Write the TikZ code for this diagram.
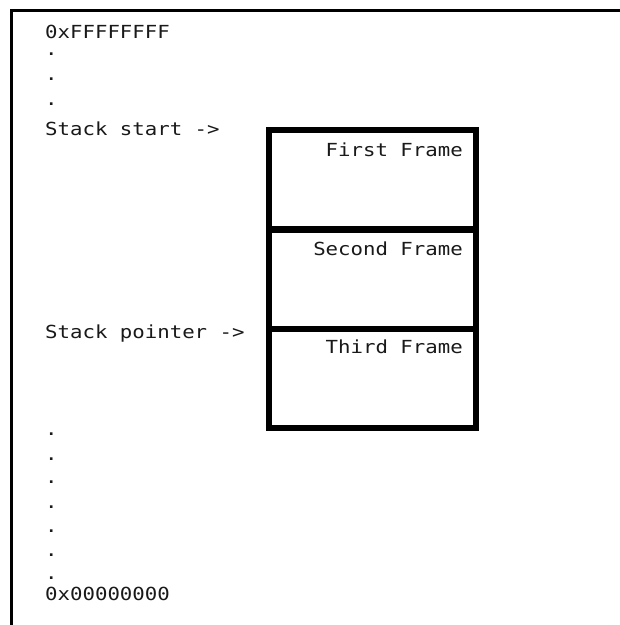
\documentclass[tikz,border=0pt]{standalone}
\usepackage{fontspec}
\newfontfamily\monofnt[FakeStretch=1.15]{DejaVu Sans Mono}
\begin{document}
\begin{tikzpicture}[x=1pt,y=-1pt,
  lbl/.style={inner sep=0pt, anchor=base west, font=\monofnt\fontsize{18}{18}\selectfont, text=black!90},
  flbl/.style={inner sep=0pt, anchor=base east, font=\monofnt\fontsize{18}{18}\selectfont, text=black!90},
  framebox/.style={draw=black, line width=6pt, rectangle, inner sep=0pt, outer sep=0pt, minimum width=207pt, minimum height=99pt, anchor=north west},
  border/.style={draw=black, line width=3pt}]
\useasboundingbox (0,0) rectangle (620,625);
% outer border (top and left only)
\coordinate (tr) at (620,10);
\coordinate (tl) at (11,10);
\coordinate (bl) at (11,625);
\draw[border] (tr) -- (tl) -- (bl);
% labels
\node[lbl] (top) at (45,38) {0xFFFFFFFF};
\node[lbl] (d1) at (45,55) {.};
\node[lbl] (d2) at (45,80) {.};
\node[lbl] (d3) at (45,105) {.};
\node[lbl] (ss) at (45,135) {Stack start ->};
\node[lbl] (sp) at (45,338) {Stack pointer ->};
\node[lbl] (e1) at (45,435) {.};
\node[lbl] (e2) at (45,460) {.};
\node[lbl] (e3) at (45,483) {.};
\node[lbl] (e4) at (45,508) {.};
\node[lbl] (e5) at (45,532) {.};
\node[lbl] (e6) at (45,556) {.};
\node[lbl] (e7) at (45,579) {.};
\node[lbl] (bot) at (45,600) {0x00000000};
% frames
\node[framebox] (f1) at (269,130) {};
\node[framebox] (f2) at (269,229.5) {};
\node[framebox] (f3) at (269,328.5) {};
\node[flbl] (t1) at (463,156) {First Frame};
\node[flbl] (t2) at (463,255) {Second Frame};
\node[flbl] (t3) at (463,353) {Third Frame};
\end{tikzpicture}
\end{document}
